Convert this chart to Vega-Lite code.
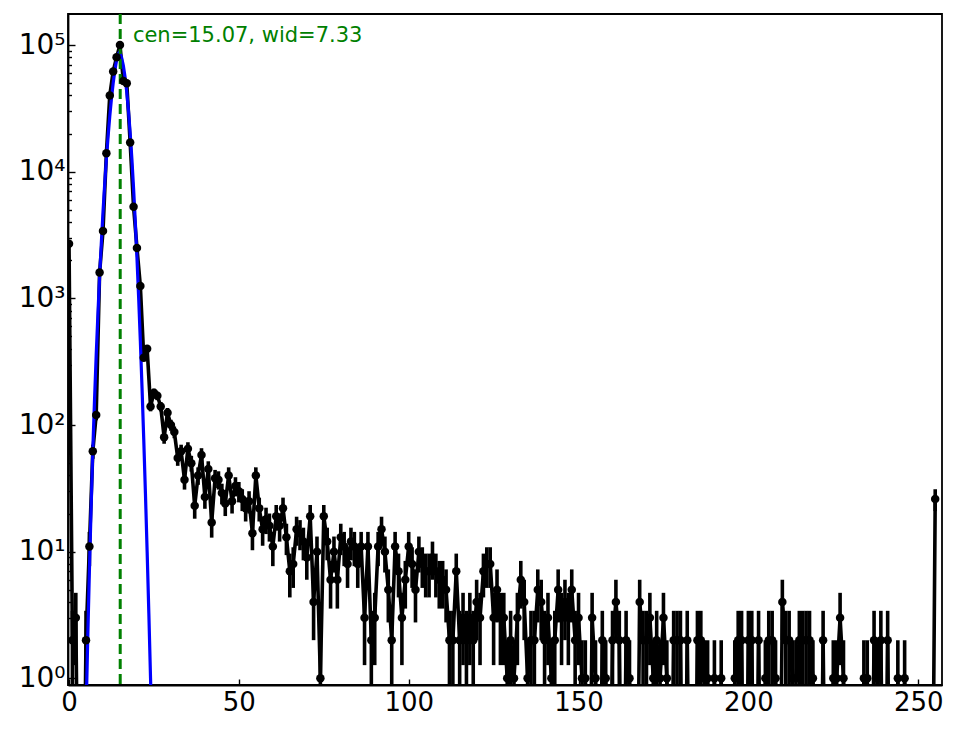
{
  "$schema": "https://vega.github.io/schema/vega-lite/v6.json",
  "width": 874,
  "height": 671,
  "autosize": "none",
  "padding": {"left": 68, "top": 14, "right": 22, "bottom": 44},
  "background": "white",
  "config": {
    "view": {"stroke": "black", "strokeWidth": 1.8},
    "font": "DejaVu Sans",
    "axis": {
      "labelFont": "DejaVu Sans",
      "labelFontSize": 26,
      "labelColor": "black",
      "domainColor": "black",
      "domainWidth": 1.8,
      "tickColor": "black",
      "tickWidth": 1.4,
      "grid": false,
      "title": null
    }
  },
  "datasets": {
    "hist": [
      {"b":0,"n":2700,"lo":2648,"hi":2752},{"b":1,"n":2,"lo":0.59,"hi":3.41},{"b":2,"n":3,"lo":1.27,"hi":4.73},
      {"b":3,"n":0.01},{"b":4,"n":0.01},{"b":5,"n":2,"lo":0.59,"hi":3.41},{"b":6,"n":11,"lo":7.68,"hi":14.32},
      {"b":7,"n":62,"lo":54.1,"hi":69.9},{"b":8,"n":120,"lo":109,"hi":131},{"b":9,"n":1600,"lo":1560,"hi":1640},
      {"b":10,"n":3400,"lo":3342,"hi":3458},{"b":11,"n":14000,"lo":13882,"hi":14118},{"b":12,"n":40000,"lo":39800,"hi":40200},
      {"b":13,"n":62000,"lo":61751,"hi":62249},{"b":14,"n":80000,"lo":79717,"hi":80283},{"b":15,"n":100000,"lo":99684,"hi":100316},
      {"b":16,"n":52000,"lo":51772,"hi":52228},{"b":17,"n":50000,"lo":49776,"hi":50224},{"b":18,"n":17000,"lo":16870,"hi":17130},
      {"b":19,"n":5300,"lo":5227,"hi":5373},{"b":20,"n":2500,"lo":2450,"hi":2550},{"b":21,"n":1250,"lo":1215,"hi":1285},
      {"b":22,"n":340,"lo":321.6,"hi":358.4},{"b":23,"n":400,"lo":380,"hi":420},{"b":24,"n":140,"lo":128.2,"hi":151.8},
      {"b":25,"n":180,"lo":166.6,"hi":193.4},{"b":26,"n":170,"lo":157,"hi":183},{"b":27,"n":140,"lo":128.2,"hi":151.8},
      {"b":28,"n":80,"lo":71.1,"hi":88.9},{"b":29,"n":125,"lo":113.8,"hi":136.2},{"b":30,"n":100,"lo":90,"hi":110},
      {"b":31,"n":88,"lo":78.6,"hi":97.4},{"b":32,"n":55,"lo":47.6,"hi":62.4},{"b":33,"n":62,"lo":54.1,"hi":69.9},
      {"b":34,"n":37,"lo":30.9,"hi":43.1},{"b":35,"n":65,"lo":56.9,"hi":73.1},{"b":36,"n":50,"lo":42.9,"hi":57.1},
      {"b":37,"n":23,"lo":18.2,"hi":27.8},{"b":38,"n":40,"lo":33.7,"hi":46.3},{"b":39,"n":58,"lo":50.4,"hi":65.6},
      {"b":40,"n":27,"lo":21.8,"hi":32.2},{"b":41,"n":45,"lo":38.3,"hi":51.7},{"b":42,"n":17,"lo":12.9,"hi":21.1},
      {"b":43,"n":38,"lo":31.8,"hi":44.2},{"b":44,"n":37,"lo":30.9,"hi":43.1},{"b":45,"n":29,"lo":23.6,"hi":34.4},
      {"b":46,"n":24,"lo":19.1,"hi":28.9},{"b":47,"n":40,"lo":33.7,"hi":46.3},{"b":48,"n":25,"lo":20,"hi":30},
      {"b":49,"n":33,"lo":27.3,"hi":38.7},{"b":50,"n":30,"lo":24.5,"hi":35.5},{"b":51,"n":26,"lo":20.9,"hi":31.1},
      {"b":52,"n":22,"lo":17.3,"hi":26.7},{"b":53,"n":25,"lo":20,"hi":30},{"b":54,"n":14,"lo":10.26,"hi":17.74},
      {"b":55,"n":40,"lo":33.7,"hi":46.3},{"b":56,"n":22,"lo":17.3,"hi":26.7},{"b":57,"n":15,"lo":11.13,"hi":18.87},
      {"b":58,"n":18,"lo":13.76,"hi":22.24},{"b":59,"n":16,"lo":12,"hi":20},{"b":60,"n":11,"lo":7.68,"hi":14.32},
      {"b":61,"n":19,"lo":14.64,"hi":23.36},{"b":62,"n":16,"lo":12,"hi":20},{"b":63,"n":22,"lo":17.3,"hi":26.7},
      {"b":64,"n":13,"lo":9.39,"hi":16.61},{"b":65,"n":7,"lo":4.35,"hi":9.65},{"b":66,"n":8,"lo":5.17,"hi":10.83},
      {"b":67,"n":15,"lo":11.13,"hi":18.87},{"b":68,"n":14,"lo":10.26,"hi":17.74},{"b":69,"n":12,"lo":8.54,"hi":15.46},
      {"b":70,"n":9,"lo":6,"hi":12},{"b":71,"n":19,"lo":14.64,"hi":23.36},{"b":72,"n":4,"lo":2,"hi":6},
      {"b":73,"n":10,"lo":6.84,"hi":13.16},{"b":74,"n":1,"lo":0.01,"hi":2},{"b":75,"n":19,"lo":14.64,"hi":23.36},
      {"b":76,"n":12,"lo":8.54,"hi":15.46},{"b":77,"n":6,"lo":3.55,"hi":8.45},{"b":78,"n":10,"lo":6.84,"hi":13.16},
      {"b":79,"n":6,"lo":3.55,"hi":8.45},{"b":80,"n":13,"lo":9.39,"hi":16.61},{"b":81,"n":11,"lo":7.68,"hi":14.32},
      {"b":82,"n":8,"lo":5.17,"hi":10.83},{"b":83,"n":12,"lo":8.54,"hi":15.46},{"b":84,"n":11,"lo":7.68,"hi":14.32},
      {"b":85,"n":8,"lo":5.17,"hi":10.83},{"b":86,"n":11,"lo":7.68,"hi":14.32},{"b":87,"n":3,"lo":1.27,"hi":4.73},
      {"b":88,"n":11,"lo":7.68,"hi":14.32},{"b":89,"n":2,"lo":0.59,"hi":3.41},{"b":90,"n":3,"lo":1.27,"hi":4.73},
      {"b":91,"n":11,"lo":7.68,"hi":14.32},{"b":92,"n":15,"lo":11.13,"hi":18.87},{"b":93,"n":10,"lo":6.84,"hi":13.16},
      {"b":94,"n":5,"lo":2.76,"hi":7.24},{"b":95,"n":2,"lo":0.59,"hi":3.41},{"b":96,"n":11,"lo":7.68,"hi":14.32},
      {"b":97,"n":7,"lo":4.35,"hi":9.65},{"b":98,"n":3,"lo":1.27,"hi":4.73},{"b":99,"n":6,"lo":3.55,"hi":8.45},
      {"b":100,"n":11,"lo":7.68,"hi":14.32},{"b":101,"n":8,"lo":5.17,"hi":10.83},{"b":102,"n":5,"lo":2.76,"hi":7.24},
      {"b":103,"n":10,"lo":6.84,"hi":13.16},{"b":104,"n":8,"lo":5.17,"hi":10.83},{"b":105,"n":7,"lo":4.35,"hi":9.65},
      {"b":106,"n":7,"lo":4.35,"hi":9.65},{"b":107,"n":9,"lo":6,"hi":12},{"b":108,"n":7,"lo":4.35,"hi":9.65},
      {"b":109,"n":6,"lo":3.55,"hi":8.45},{"b":110,"n":6,"lo":3.55,"hi":8.45},{"b":111,"n":5,"lo":2.76,"hi":7.24},
      {"b":112,"n":2,"lo":0.59,"hi":3.41},{"b":113,"n":2,"lo":0.59,"hi":3.41},{"b":114,"n":7,"lo":4.35,"hi":9.65},
      {"b":115,"n":2,"lo":0.59,"hi":3.41},{"b":116,"n":3,"lo":1.27,"hi":4.73},{"b":117,"n":2,"lo":0.59,"hi":3.41},
      {"b":118,"n":3,"lo":1.27,"hi":4.73},{"b":119,"n":2,"lo":0.59,"hi":3.41},{"b":120,"n":4,"lo":2,"hi":6},
      {"b":121,"n":3,"lo":1.27,"hi":4.73},{"b":122,"n":7,"lo":4.35,"hi":9.65},{"b":123,"n":8,"lo":5.17,"hi":10.83},
      {"b":124,"n":8,"lo":5.17,"hi":10.83},{"b":125,"n":3,"lo":1.27,"hi":4.73},{"b":126,"n":5,"lo":2.76,"hi":7.24},
      {"b":127,"n":3,"lo":1.27,"hi":4.73},{"b":128,"n":3,"lo":1.27,"hi":4.73},{"b":129,"n":1,"lo":0.01,"hi":2},
      {"b":130,"n":2,"lo":0.59,"hi":3.41},{"b":131,"n":1,"lo":0.01,"hi":2},{"b":132,"n":3,"lo":1.27,"hi":4.73},
      {"b":133,"n":6,"lo":3.55,"hi":8.45},{"b":134,"n":4,"lo":2,"hi":6},{"b":135,"n":1,"lo":0.01,"hi":2},
      {"b":136,"n":2,"lo":0.59,"hi":3.41},{"b":137,"n":2,"lo":0.59,"hi":3.41},{"b":138,"n":5,"lo":2.76,"hi":7.24},
      {"b":139,"n":4,"lo":2,"hi":6},{"b":140,"n":2,"lo":0.59,"hi":3.41},{"b":141,"n":3,"lo":1.27,"hi":4.73},
      {"b":142,"n":1,"lo":0.01,"hi":2},{"b":143,"n":2,"lo":0.59,"hi":3.41},{"b":144,"n":5,"lo":2.76,"hi":7.24},
      {"b":145,"n":3,"lo":1.27,"hi":4.73},{"b":146,"n":4,"lo":2,"hi":6},{"b":147,"n":3,"lo":1.27,"hi":4.73},
      {"b":148,"n":5,"lo":2.76,"hi":7.24},{"b":149,"n":2,"lo":0.59,"hi":3.41},{"b":150,"n":3,"lo":1.27,"hi":4.73},
      {"b":151,"n":1,"lo":0.01,"hi":2},{"b":152,"n":1,"lo":0.01,"hi":2},{"b":153,"n":0.01},
      {"b":154,"n":3,"lo":1.27,"hi":4.73},{"b":155,"n":1,"lo":0.01,"hi":2},{"b":156,"n":0.01},
      {"b":157,"n":2,"lo":0.59,"hi":3.41},{"b":158,"n":1,"lo":0.01,"hi":2},{"b":159,"n":0.01},
      {"b":160,"n":2,"lo":0.59,"hi":3.41},{"b":161,"n":4,"lo":2,"hi":6},{"b":162,"n":2,"lo":0.59,"hi":3.41},
      {"b":163,"n":0.01},{"b":164,"n":2,"lo":0.59,"hi":3.41},{"b":165,"n":1,"lo":0.01,"hi":2},
      {"b":166,"n":0.01},{"b":167,"n":0.01},{"b":168,"n":4,"lo":2,"hi":6},
      {"b":169,"n":2,"lo":0.59,"hi":3.41},{"b":170,"n":2,"lo":0.59,"hi":3.41},{"b":171,"n":3,"lo":1.27,"hi":4.73},
      {"b":172,"n":1,"lo":0.01,"hi":2},{"b":173,"n":2,"lo":0.59,"hi":3.41},{"b":174,"n":1,"lo":0.01,"hi":2},
      {"b":175,"n":3,"lo":1.27,"hi":4.73},{"b":176,"n":1,"lo":0.01,"hi":2},{"b":177,"n":0.01},
      {"b":178,"n":2,"lo":0.59,"hi":3.41},{"b":179,"n":2,"lo":0.59,"hi":3.41},{"b":180,"n":2,"lo":0.59,"hi":3.41},
      {"b":181,"n":0.01},{"b":182,"n":2,"lo":0.59,"hi":3.41},{"b":183,"n":0.01},{"b":184,"n":0.01},
      {"b":185,"n":2,"lo":0.59,"hi":3.41},{"b":186,"n":2,"lo":0.59,"hi":3.41},{"b":187,"n":1,"lo":0.01,"hi":2},
      {"b":188,"n":1,"lo":0.01,"hi":2},{"b":189,"n":0.01},{"b":190,"n":1,"lo":0.01,"hi":2},
      {"b":191,"n":0.01},{"b":192,"n":1,"lo":0.01,"hi":2},{"b":193,"n":0.01},{"b":194,"n":0.01},{"b":195,"n":0.01},
      {"b":196,"n":1,"lo":0.01,"hi":2},{"b":197,"n":2,"lo":0.59,"hi":3.41},{"b":198,"n":2,"lo":0.59,"hi":3.41},
      {"b":199,"n":0.01},{"b":200,"n":2,"lo":0.59,"hi":3.41},{"b":201,"n":2,"lo":0.59,"hi":3.41},
      {"b":202,"n":0.01},{"b":203,"n":2,"lo":0.59,"hi":3.41},{"b":204,"n":0.01},
      {"b":205,"n":1,"lo":0.01,"hi":2},{"b":206,"n":2,"lo":0.59,"hi":3.41},{"b":207,"n":2,"lo":0.59,"hi":3.41},
      {"b":208,"n":1,"lo":0.01,"hi":2},{"b":209,"n":0.01},{"b":210,"n":4,"lo":2,"hi":6},
      {"b":211,"n":2,"lo":0.59,"hi":3.41},{"b":212,"n":2,"lo":0.59,"hi":3.41},{"b":213,"n":1,"lo":0.01,"hi":2},
      {"b":214,"n":1,"lo":0.01,"hi":2},{"b":215,"n":2,"lo":0.59,"hi":3.41},{"b":216,"n":2,"lo":0.59,"hi":3.41},
      {"b":217,"n":2,"lo":0.59,"hi":3.41},{"b":218,"n":2,"lo":0.59,"hi":3.41},{"b":219,"n":1,"lo":0.01,"hi":2},
      {"b":220,"n":0.01},{"b":221,"n":0.01},{"b":222,"n":2,"lo":0.59,"hi":3.41},{"b":223,"n":0.01},{"b":224,"n":0.01},
      {"b":225,"n":1,"lo":0.01,"hi":2},{"b":226,"n":1,"lo":0.01,"hi":2},{"b":227,"n":3,"lo":1.27,"hi":4.73},
      {"b":228,"n":1,"lo":0.01,"hi":2},{"b":229,"n":0.01},{"b":230,"n":0.01},{"b":231,"n":0.01},{"b":232,"n":0.01},{"b":233,"n":0.01},
      {"b":234,"n":1,"lo":0.01,"hi":2},{"b":235,"n":1,"lo":0.01,"hi":2},{"b":236,"n":0.01},
      {"b":237,"n":2,"lo":0.59,"hi":3.41},{"b":238,"n":1,"lo":0.01,"hi":2},{"b":239,"n":2,"lo":0.59,"hi":3.41},
      {"b":240,"n":0.01},{"b":241,"n":2,"lo":0.59,"hi":3.41},{"b":242,"n":0.01},{"b":243,"n":0.01},
      {"b":244,"n":1,"lo":0.01,"hi":2},{"b":245,"n":0.01},{"b":246,"n":1,"lo":0.01,"hi":2},
      {"b":247,"n":0.01},{"b":248,"n":0.01},{"b":249,"n":0.01},{"b":250,"n":0.01},{"b":251,"n":0.01},
      {"b":252,"n":0.01},{"b":253,"n":0.01},{"b":254,"n":0.01},{"b":255,"n":26,"lo":20.9,"hi":31.1}
    ],
    "fit": [
      {"b":5.0,"c":0.5},{"b":5.5,"c":2.0},{"b":6,"c":7.1},{"b":6.5,"c":21.9},{"b":7,"c":63},
      {"b":7.5,"c":155},{"b":8,"c":355},{"b":8.5,"c":741},{"b":9,"c":1479},{"b":9.5,"c":2692},
      {"b":10,"c":4786},{"b":10.5,"c":7943},{"b":11,"c":12590},{"b":11.5,"c":19050},{"b":12,"c":27540},
      {"b":12.5,"c":38020},{"b":13,"c":50120},{"b":13.5,"c":63100},{"b":14,"c":75860},{"b":14.5,"c":85110},
      {"b":14.75,"c":87100},{"b":15,"c":86100},{"b":15.5,"c":79300},{"b":16,"c":68700},{"b":16.5,"c":55800},
      {"b":17,"c":42500},{"b":17.5,"c":30300},{"b":18,"c":20200},{"b":18.5,"c":12670},{"b":19,"c":7430},
      {"b":19.5,"c":4080},{"b":20,"c":2100},{"b":20.5,"c":1014},{"b":21,"c":459},{"b":21.5,"c":195},
      {"b":22,"c":77},{"b":22.5,"c":28.7},{"b":23,"c":10},{"b":23.5,"c":3.27},{"b":24,"c":1.0},{"b":24.5,"c":0.29}
    ],
    "cen": [{"b": 15.07}],
    "label": [{"b": 18.8, "v": 117000, "t": "cen=15.07, wid=7.33"}]
  },
  "encoding": {
    "x": {
      "field": "b",
      "type": "quantitative",
      "scale": {"domain": [-0.3, 257], "nice": false, "zero": false},
      "axis": {"values": [0, 50, 100, 150, 200, 250], "tickSize": -6, "labelPadding": 10, "labelFlush": false}
    }
  },
  "layer": [
    {
      "data": {"name": "hist"},
      "transform": [{"filter": "datum.hi > 0"}],
      "mark": {"type": "rule", "color": "black", "strokeWidth": 3.6, "clip": true},
      "encoding": {
        "y": {
          "field": "lo",
          "type": "quantitative",
          "scale": {"type": "log", "domain": [0.885, 176000], "nice": false},
          "axis": {
            "orient": "left",
            "values": [1, 10, 100, 1000, 10000, 100000],
            "tickSize": -7,
            "labelPadding": 10,
            "labelFontSize": 28,
            "labelExpr": "'10' + ['⁰','¹','²','³','⁴','⁵'][round(log(datum.value) / LN10)]"
          }
        },
        "y2": {"field": "hi"}
      }
    },
    {
      "data": {"name": "hist"},
      "mark": {"type": "line", "color": "black", "strokeWidth": 3.6, "clip": true},
      "encoding": {
        "y": {
          "field": "n",
          "type": "quantitative",
          "scale": {"type": "log", "domain": [0.885, 176000], "nice": false},
          "axis": {
            "orient": "left",
            "values": [2,3,4,5,6,7,8,9,20,30,40,50,60,70,80,90,200,300,400,500,600,700,800,900,2000,3000,4000,5000,6000,7000,8000,9000,20000,30000,40000,50000,60000,70000,80000,90000],
            "tickSize": -3.5,
            "labels": false,
            "domain": false
          }
        }
      }
    },
    {
      "data": {"name": "fit"},
      "mark": {"type": "line", "color": "#0000ff", "strokeWidth": 3.2, "clip": true},
      "encoding": {
        "y": {
          "field": "c",
          "type": "quantitative",
          "scale": {"type": "log", "domain": [0.885, 176000], "nice": false},
          "axis": null
        }
      }
    },
    {
      "data": {"name": "cen"},
      "mark": {"type": "rule", "color": "#008000", "strokeWidth": 3, "strokeDash": [10, 5]},
      "encoding": {}
    },
    {
      "data": {"name": "hist"},
      "mark": {"type": "circle", "color": "black", "opacity": 1, "size": 72, "clip": true},
      "encoding": {
        "y": {
          "field": "n",
          "type": "quantitative",
          "scale": {"type": "log", "domain": [0.885, 176000], "nice": false},
          "axis": null
        }
      }
    },
    {
      "data": {"name": "label"},
      "mark": {"type": "text", "align": "left", "baseline": "middle", "fontSize": 21, "color": "#008000", "font": "DejaVu Sans"},
      "encoding": {
        "y": {
          "field": "v",
          "type": "quantitative",
          "scale": {"type": "log", "domain": [0.885, 176000], "nice": false},
          "axis": null
        },
        "text": {"field": "t"}
      }
    }
  ],
  "resolve": {"axis": {"y": "independent"}}
}
